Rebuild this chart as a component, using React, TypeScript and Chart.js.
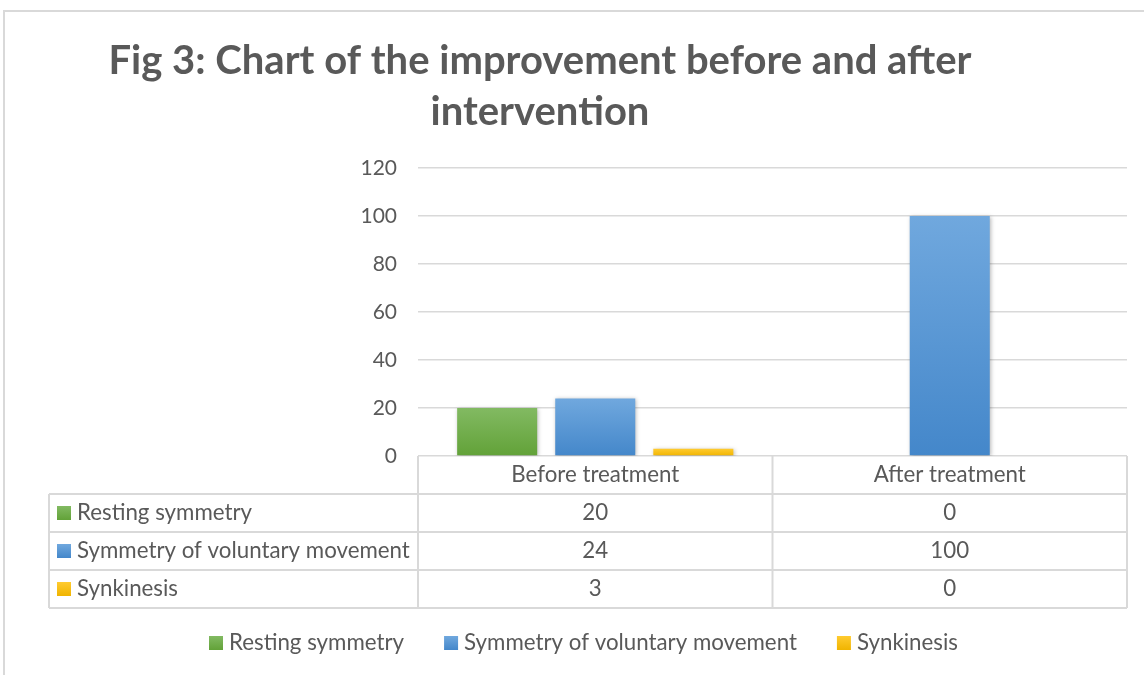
import React, { useEffect, useRef } from "react";
import { Chart, registerables } from "chart.js";

Chart.register(...registerables);

// ---- data ----
const categories = ["Before treatment", "After treatment"];
const seriesNames = ["Resting symmetry", "Symmetry of voluntary movement", "Synkinesis"];
const restingSymmetry = [20, 0];
const voluntaryMovement = [24, 100];
const synkinesis = [3, 0];
const yMin = 0;
const yMax = 120;
const yStep = 20;
const titleLines = ["Fig 3: Chart of the improvement before and after", "intervention"];

// ---- styles ----
const FONT = "Lato";
const TEXT = "#595959";
const LINE = "#d9d9d9";
const gradients: [string, string][] = [
  ["#82ba62", "#62a238"],
  ["#70a8de", "#4487ca"],
  ["#ffcb30", "#f0b400"],
];

function barFill(idx: number) {
  return (ctx: any) => {
    const chart = ctx.chart;
    const [top, bot] = gradients[idx];
    if (!chart.chartArea || ctx.type !== "data") return top;
    const y = chart.scales.y;
    const yTop = y.getPixelForValue(ctx.raw);
    const yBot = y.getPixelForValue(0);
    if (yBot - yTop < 1) return top;
    const g = chart.ctx.createLinearGradient(0, yTop, 0, yBot);
    g.addColorStop(0, top);
    g.addColorStop(1, bot);
    return g;
  };
}

function keyBox(c: CanvasRenderingContext2D, idx: number, x: number, yc: number) {
  const s = 14;
  const g = c.createLinearGradient(0, yc - s / 2, 0, yc + s / 2);
  g.addColorStop(0, gradients[idx][0]);
  g.addColorStop(1, gradients[idx][1]);
  c.fillStyle = g;
  c.fillRect(x, yc - s / 2, s, s);
}

const decorPlugin = {
  id: "decor",
  beforeDraw(chart: any) {
    const c: CanvasRenderingContext2D = chart.ctx;
    c.save();
    c.strokeStyle = LINE;
    c.lineWidth = 2;
    c.beginPath();
    c.moveTo(4, chart.height);
    c.lineTo(4, 11);
    c.lineTo(chart.width, 11);
    c.stroke();
    // title
    c.fillStyle = TEXT;
    c.font = `bold 40px ${FONT}`;
    c.textAlign = "center";
    c.textBaseline = "alphabetic";
    c.fillText(titleLines[0], 540, 74);
    c.fillText(titleLines[1], 540, 125);
    c.restore();
  },
  beforeDatasetsDraw(chart: any) {
    const c = chart.ctx;
    c.save();
    c.shadowColor = "rgba(0,0,0,0.28)";
    c.shadowBlur = 4;
    c.shadowOffsetX = 1;
    c.shadowOffsetY = 1;
  },
  afterDatasetsDraw(chart: any) {
    chart.ctx.restore();
  },
  afterDraw(chart: any) {
    const c: CanvasRenderingContext2D = chart.ctx;
    const area = chart.chartArea;
    const xs = chart.scales.x;
    const n = categories.length;
    const w = (area.right - area.left) / n;
    const rowH = 38;
    const tableLeft = 49;
    const y0 = area.bottom;
    const rows = chart.data.datasets.length;
    const yEnd = y0 + rowH * (rows + 1);
    c.save();
    c.strokeStyle = LINE;
    c.lineWidth = 2;
    c.beginPath();
    for (let i = 0; i <= n; i++) {
      const x = area.left + i * w;
      c.moveTo(x, y0);
      c.lineTo(x, yEnd);
    }
    for (let r = 1; r <= rows + 1; r++) {
      const y = y0 + r * rowH;
      c.moveTo(tableLeft, y);
      c.lineTo(area.right, y);
    }
    c.moveTo(tableLeft, y0 + rowH);
    c.lineTo(tableLeft, yEnd);
    c.stroke();

    c.fillStyle = TEXT;
    c.font = `22.3px ${FONT}`;
    c.textBaseline = "middle";
    c.textAlign = "center";
    categories.forEach((cat, i) => {
      c.fillText(cat, xs.getPixelForValue(i), y0 + rowH / 2);
    });
    chart.data.datasets.forEach((ds: any, r: number) => {
      const yc = y0 + rowH * (r + 1) + rowH / 2;
      keyBox(c, r, tableLeft + 8, yc);
      c.fillStyle = TEXT;
      c.textAlign = "left";
      c.fillText(ds.label, tableLeft + 28, yc);
      c.textAlign = "center";
      ds.data.forEach((v: number, i: number) => {
        c.fillText(String(v), xs.getPixelForValue(i), yc);
      });
    });

    // legend
    const gap = 40;
    const widths = chart.data.datasets.map((ds: any) => 20 + c.measureText(ds.label).width);
    let x = 209;
    const ly = 643;
    chart.data.datasets.forEach((ds: any, r: number) => {
      keyBox(c, r, x, ly);
      c.fillStyle = TEXT;
      c.textAlign = "left";
      c.fillText(ds.label, x + 20, ly);
      x += widths[r] + gap;
    });
    c.restore();
  },
};

export default function App() {
  const ref = useRef<HTMLCanvasElement>(null);
  useEffect(() => {
    let chart: Chart | null = null;
    let cancelled = false;
    Promise.all([
      document.fonts.load(`bold 40px ${FONT}`),
      document.fonts.load(`21px ${FONT}`),
    ]).catch(() => null).then(() => {
      if (cancelled || !ref.current) return;
      chart = new Chart(ref.current, {
        type: "bar",
        data: {
          labels: categories,
          datasets: [
            { label: seriesNames[0], data: restingSymmetry, backgroundColor: barFill(0) },
            { label: seriesNames[1], data: voluntaryMovement, backgroundColor: barFill(1) },
            { label: seriesNames[2], data: synkinesis, backgroundColor: barFill(2) },
          ],
        },
        options: {
          responsive: false,
          animation: false,
          devicePixelRatio: 1,
          layout: { padding: { top: 168, right: 17, bottom: 219, left: 0 } },
          datasets: { bar: { categoryPercentage: 0.83, barPercentage: 0.816, borderWidth: 0 } },
          plugins: {
            legend: { display: false },
            title: { display: false },
            tooltip: { enabled: false },
          },
          scales: {
            x: { display: false },
            y: {
              min: yMin,
              max: yMax,
              afterFit: (s: any) => { s.width = 418; },
              ticks: {
                stepSize: yStep,
                padding: 21,
                color: TEXT,
                font: { family: FONT, size: 21 },
              },
              grid: { color: LINE, lineWidth: 1.5, drawTicks: false },
              border: { display: false },
            },
          },
        },
        plugins: [decorPlugin],
      });
    });
    return () => {
      cancelled = true;
      if (chart) chart.destroy();
    };
  }, []);
  return (
    <div style={{ position: "fixed", left: 0, top: 0, width: 1144, height: 675, background: "#fff" }}>
      <canvas ref={ref} width={1144} height={675} style={{ width: 1144, height: 675 }} />
    </div>
  );
}
